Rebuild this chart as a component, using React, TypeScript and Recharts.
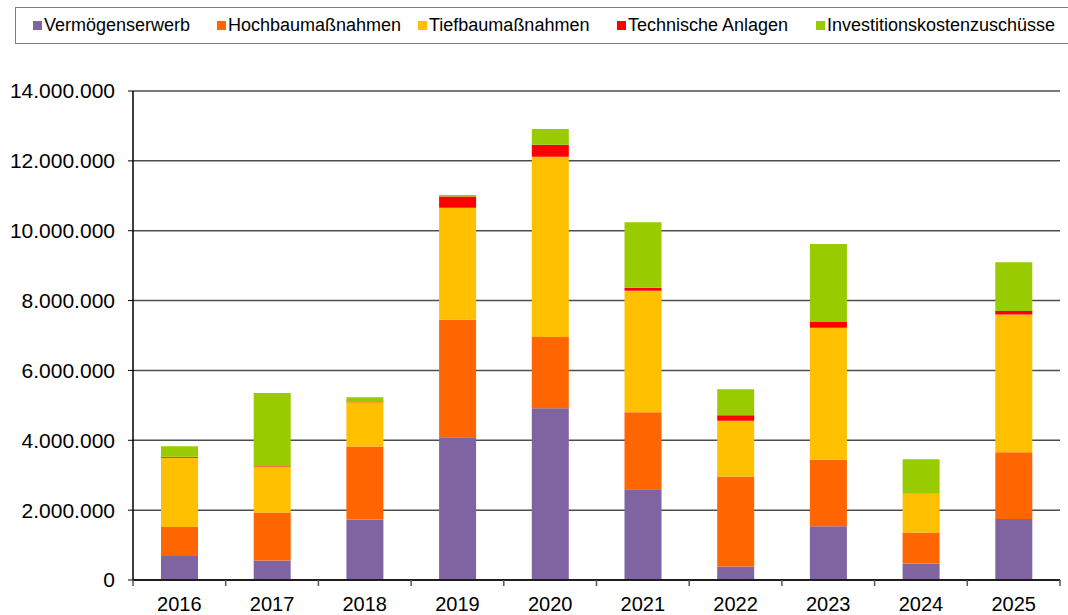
import { BarChart, Bar, XAxis, YAxis, CartesianGrid } from 'recharts';

const years = ['2016', '2017', '2018', '2019', '2020', '2021', '2022', '2023', '2024', '2025'];

const vermoegenserwerb = [690000, 560000, 1730000, 4090000, 4920000, 2600000, 390000, 1540000, 470000, 1750000];
const hochbau = [830000, 1370000, 2090000, 3360000, 2040000, 2200000, 2570000, 1900000, 890000, 1910000];
const tiefbau = [1980000, 1320000, 1270000, 3210000, 5160000, 3480000, 1600000, 3780000, 1110000, 3940000];
const technik = [30000, 15000, 20000, 320000, 340000, 90000, 160000, 170000, 10000, 100000];
const zuschuesse = [300000, 2090000, 120000, 40000, 450000, 1870000, 740000, 2230000, 980000, 1400000];

const yTicks = [0, 2000000, 4000000, 6000000, 8000000, 10000000, 12000000, 14000000];

const series = [
  { key: 'v', name: 'Vermögenserwerb', color: '#8064A2', values: vermoegenserwerb },
  { key: 'h', name: 'Hochbaumaßnahmen', color: '#FF6600', values: hochbau },
  { key: 't', name: 'Tiefbaumaßnahmen', color: '#FFC000', values: tiefbau },
  { key: 'a', name: 'Technische Anlagen', color: '#FF0000', values: technik },
  { key: 'z', name: 'Investitionskostenzuschüsse', color: '#99CC00', values: zuschuesse },
];

const data = years.map((year, i) => {
  const row: Record<string, string | number> = { year };
  series.forEach((s) => { row[s.key] = s.values[i]; });
  return row;
});

const W = 1068;
const H = 615;
const LEFT = 133;
const RIGHT = 8;
const STEP = (W - LEFT - RIGHT) / years.length;
const FONT = '"Liberation Sans", Arial, sans-serif';
// left edge of each legend swatch, as in the original
const legendLeft = [17, 201, 402, 601, 800];

const fmt = (n: number) => String(n).replace(/\B(?=(\d{3})+(?!\d))/g, '.');

function XTick(props: any) {
  const { x, y, payload, index } = props;
  const half = STEP / 2;
  return (
    <g>
      <line x1={x - half} x2={x - half} y1={y} y2={y + 6} stroke="#555" strokeWidth={1.5} />
      {index === years.length - 1 && (
        <line x1={x + half} x2={x + half} y1={y} y2={y + 6} stroke="#555" strokeWidth={1.5} />
      )}
      <text x={x} y={y + 17} dy="0.71em" textAnchor="middle" fill="#000" fontSize={20} fontFamily={FONT}>
        {payload.value}
      </text>
    </g>
  );
}

export default function App() {
  return (
    <div style={{ position: 'absolute', left: 0, top: 0, width: W, height: H, overflow: 'hidden', background: '#fff' }}>
      <div
        style={{
          position: 'absolute',
          left: 15,
          top: 7,
          width: 1080,
          height: 37,
          border: '1.5px solid #7f7f7f',
          fontFamily: FONT,
          fontSize: 18,
          color: '#000',
          boxSizing: 'border-box',
        }}
      >
        {series.map((s, i) => (
          <div
            key={s.key}
            style={{ position: 'absolute', left: legendLeft[i], top: 7, display: 'flex', alignItems: 'center', whiteSpace: 'nowrap' }}
          >
            <span style={{ display: 'inline-block', width: 9, height: 9, background: s.color, marginRight: 2 }} />
            <span>{s.name}</span>
          </div>
        ))}
      </div>
      <BarChart width={W} height={H} data={data} margin={{ top: 91, right: RIGHT, bottom: 0, left: 0 }} barCategoryGap={0}>
        <CartesianGrid vertical={false} stroke="#4d4d4d" strokeWidth={1.5} />
        <XAxis
          dataKey="year"
          height={35}
          tickLine={false}
          tickSize={0}
          tickMargin={0}
          axisLine={{ stroke: '#000', strokeWidth: 1.5 }}
          tick={<XTick />}
          interval={0}
        />
        <YAxis
          width={LEFT}
          domain={[0, 14000000]}
          ticks={yTicks}
          tickFormatter={fmt}
          axisLine={{ stroke: '#000', strokeWidth: 1.5 }}
          tickLine={{ stroke: '#000' }}
          tickSize={5}
          tickMargin={13}
          tick={{ fill: '#000', fontSize: 21, fontFamily: FONT }}
        />
        {series.map((s) => (
          <Bar key={s.key} dataKey={s.key} name={s.name} stackId="a" fill={s.color} barSize={37} isAnimationActive={false} />
        ))}
      </BarChart>
    </div>
  );
}
